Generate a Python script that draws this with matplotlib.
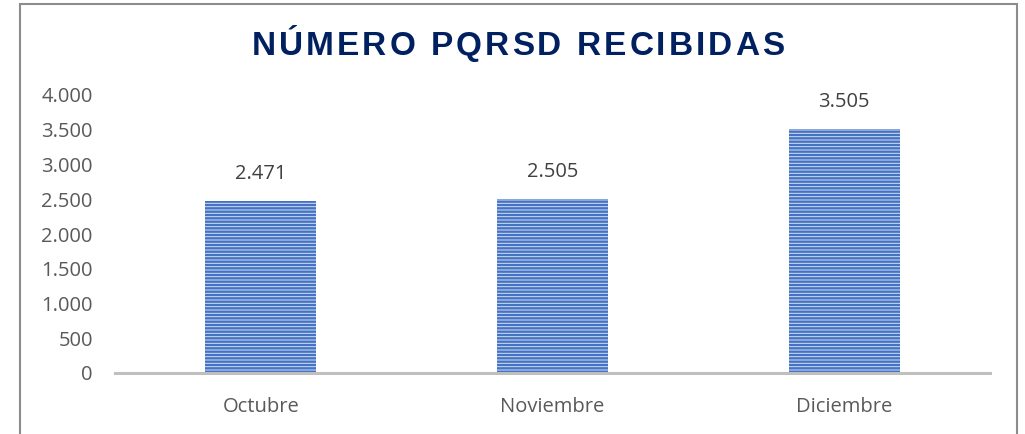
import matplotlib.pyplot as plt
from matplotlib.patches import Rectangle

# data
meses = ["Octubre", "Noviembre", "Diciembre"]
pqrsd = [2471, 2505, 3505]
etiquetas = ["2.471", "2.505", "3.505"]
yticks = [0, 500, 1000, 1500, 2000, 2500, 3000, 3500, 4000]
yticklabels = ["0", "500", "1.000", "1.500", "2.000", "2.500", "3.000", "3.500", "4.000"]
titulo = "NÚMERO PQRSD RECIBIDAS"

plt.rcParams['font.family'] = ['Open Sans', 'DejaVu Sans']
plt.rcParams['hatch.linewidth'] = 1.7

W, H = 1025, 434
fig = plt.figure(figsize=(W / 100, H / 100), dpi=100)

# chart border
fig.patches.append(Rectangle((20 / W, -0.02), 997 / W, 1 - 4 / H + 0.02, transform=fig.transFigure,
                             fill=False, edgecolor='#8c8c8c', linewidth=1.5))

ax = fig.add_axes([115 / W, 1 - 373 / H, 875 / W, 278 / H])
x = range(len(meses))
ax.bar(x, pqrsd, width=0.38, facecolor='#d6e0f2', edgecolor='#4472C4', linewidth=0, hatch='-----')
for xi, v, lab in zip(x, pqrsd, etiquetas):
    ax.annotate(lab, (xi, v), xytext=(0, 19.5), textcoords='offset points',
                ha='center', va='center', fontsize=14.5, color='#404040')

ax.set_xlim(-0.5, 2.5)
ax.set_ylim(0, 4000)
ax.set_yticks(yticks)
ax.set_yticklabels(yticklabels)
ax.set_xticks(list(x))
ax.set_xticklabels(meses)
ax.tick_params(axis='y', length=0, pad=16, labelsize=14.5, labelcolor='#595959')
ax.tick_params(axis='x', length=0, pad=17, labelsize=14.5, labelcolor='#595959')
for s in ['top', 'right', 'left']:
    ax.spines[s].set_visible(False)
ax.spines['bottom'].set_color('#bfbfbf')
ax.spines['bottom'].set_linewidth(2.2)

# title with letter spacing
renderer = fig.canvas.get_renderer()
tprops = dict(fontsize=24, fontweight='bold', color='#002060', family=['Liberation Sans', 'DejaVu Sans'])
widths = []
for ch in titulo:
    t = fig.text(0, 0, ch if ch != ' ' else 'I', **tprops)
    widths.append(t.get_window_extent(renderer).width)
    t.remove()
target = 533
gap = (target - sum(widths)) / (len(titulo) - 1)
xpos = 518 - target / 2
for ch, w in zip(titulo, widths):
    if ch != ' ':
        fig.text(xpos / W, 1 - 55 / H, ch, ha='left', va='baseline', **tprops)
    xpos += w + gap

fig.savefig('out.png', dpi=100)
